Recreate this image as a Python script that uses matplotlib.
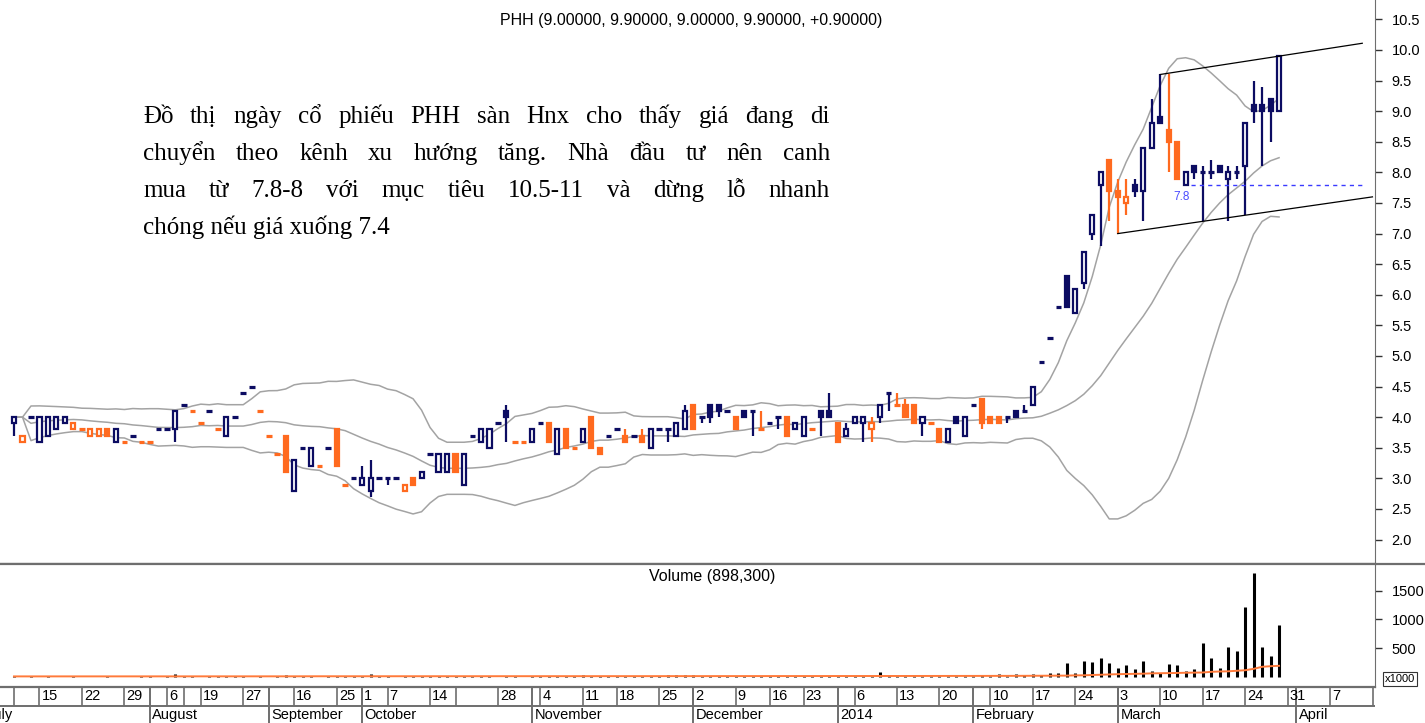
import numpy as np
import pandas as pd
import matplotlib
matplotlib.use("Agg")
import matplotlib.pyplot as plt
from matplotlib.patches import Rectangle

# ---- daily bars, July 2013 .. 28 March 2014 (first bar sits in slot 1)
opens = [3.9, 3.6, 4.0, 3.6, 3.7, 3.8, 3.9, 3.8, 3.8,
         3.7, 3.7, 3.8, 3.6, 3.6, 3.7, 3.6, 3.6, 3.8, 3.8,
         3.8, 4.2, 4.1, 3.9, 4.1, 3.8, 3.7, 4.0, 4.4, 4.5,
         4.1, 3.7, 3.4, 3.7, 2.8, 3.5, 3.2, 3.2, 3.5, 3.8,
         2.9, 3.0, 2.9, 2.8, 3.0, 3.0, 3.0, 2.8, 3.0, 3.0,
         3.4, 3.1, 3.1, 3.4, 2.9, 3.7, 3.6, 3.5, 3.9, 4.1,
         3.6, 3.6, 3.6, 3.9, 3.9, 3.4, 3.8, 3.5, 3.6, 4.0,
         3.5, 3.7, 3.8, 3.7, 3.7, 3.7, 3.5, 3.8, 3.8, 3.7,
         3.8, 4.2, 4.0, 4.2, 4.2, 4.1, 4.0, 4.1, 4.1, 3.8,
         3.9, 4.0, 4.0, 3.8, 3.7, 3.8, 4.1, 4.1, 3.9, 3.7,
         3.9, 3.9, 3.8, 4.0, 4.4, 4.2, 4.2, 4.2, 3.9, 3.9,
         3.8, 3.6, 4.0, 3.7, 4.2, 4.3, 4.0, 4.0, 4.0, 4.1,
         4.1, 4.2, 4.9, 5.3, 5.8, 6.3, 5.7, 6.2, 7.0, 7.8,
         8.2, 7.7, 7.5, 7.8, 7.7, 8.4, 8.9, 8.7, 8.5, 7.8,
         8.1, 8.0, 8.0, 8.1, 7.9, 8.0, 8.1, 9.1, 9.1, 9.2,
         9.0]
highs = [4.0, 3.7, 4.0, 4.0, 4.0, 4.0, 4.0, 3.9, 3.8,
         3.8, 3.8, 3.8, 3.8, 3.6, 3.7, 3.6, 3.6, 3.8, 3.8,
         4.1, 4.2, 4.1, 3.9, 4.1, 3.8, 4.0, 4.0, 4.4, 4.5,
         4.1, 3.7, 3.4, 3.7, 3.3, 3.5, 3.5, 3.2, 3.5, 3.8,
         2.9, 3.0, 3.2, 3.3, 3.0, 3.0, 3.0, 2.9, 3.0, 3.1,
         3.4, 3.4, 3.4, 3.4, 3.4, 3.7, 3.8, 3.8, 3.9, 4.2,
         3.6, 3.6, 3.8, 3.9, 3.9, 3.8, 3.8, 3.5, 3.8, 4.0,
         3.5, 3.7, 3.8, 3.8, 3.7, 3.8, 3.8, 3.8, 3.8, 3.9,
         4.2, 4.2, 4.0, 4.2, 4.2, 4.1, 4.0, 4.1, 4.1, 4.1,
         3.9, 4.0, 4.0, 3.9, 4.0, 3.8, 4.1, 4.4, 3.9, 3.9,
         4.0, 4.0, 4.0, 4.2, 4.4, 4.4, 4.3, 4.2, 4.0, 3.9,
         3.8, 3.8, 4.0, 4.0, 4.2, 4.3, 4.0, 4.0, 4.0, 4.1,
         4.2, 4.5, 4.9, 5.3, 5.8, 6.3, 6.1, 6.7, 7.3, 8.0,
         8.2, 7.9, 7.9, 7.9, 8.4, 9.2, 9.6, 9.6, 8.5, 8.0,
         8.1, 8.1, 8.2, 8.1, 8.1, 8.1, 8.8, 9.5, 9.4, 9.2,
         9.9]
lows = [3.7, 3.6, 4.0, 3.6, 3.7, 3.8, 3.9, 3.8, 3.8,
        3.7, 3.7, 3.7, 3.6, 3.6, 3.7, 3.6, 3.6, 3.8, 3.8,
        3.6, 4.2, 4.1, 3.9, 4.1, 3.8, 3.7, 4.0, 4.4, 4.5,
        4.1, 3.7, 3.4, 3.1, 2.8, 3.5, 3.2, 3.2, 3.5, 3.2,
        2.9, 3.0, 2.9, 2.7, 3.0, 2.9, 3.0, 2.8, 2.9, 3.0,
        3.4, 3.1, 3.1, 3.1, 2.9, 3.7, 3.6, 3.5, 3.9, 3.6,
        3.6, 3.6, 3.6, 3.9, 3.6, 3.4, 3.5, 3.5, 3.6, 3.5,
        3.4, 3.7, 3.8, 3.6, 3.7, 3.6, 3.5, 3.8, 3.6, 3.7,
        3.8, 3.8, 3.9, 3.9, 4.0, 4.1, 3.8, 4.0, 3.7, 3.8,
        3.9, 3.8, 3.7, 3.8, 3.7, 3.8, 3.7, 4.0, 3.6, 3.7,
        3.9, 3.6, 3.6, 3.9, 4.1, 4.2, 4.0, 3.9, 3.7, 3.9,
        3.6, 3.6, 3.9, 3.7, 4.2, 3.8, 3.9, 3.9, 3.9, 4.0,
        4.1, 4.2, 4.9, 5.3, 5.8, 5.8, 5.7, 6.1, 6.9, 6.8,
        7.2, 7.0, 7.3, 7.6, 7.2, 8.4, 8.8, 8.0, 7.9, 7.8,
        7.9, 7.2, 7.9, 8.0, 7.2, 7.9, 7.3, 8.8, 8.1, 8.5,
        9.0]
closes = [4.0, 3.7, 4.0, 4.0, 4.0, 4.0, 4.0, 3.9, 3.8,
          3.8, 3.8, 3.7, 3.8, 3.6, 3.7, 3.6, 3.6, 3.8, 3.8,
          4.1, 4.2, 4.1, 3.9, 4.1, 3.8, 4.0, 4.0, 4.4, 4.5,
          4.1, 3.7, 3.4, 3.1, 3.3, 3.5, 3.5, 3.2, 3.5, 3.2,
          2.9, 3.0, 3.0, 3.0, 3.0, 3.0, 3.0, 2.9, 2.9, 3.1,
          3.4, 3.4, 3.4, 3.1, 3.4, 3.7, 3.8, 3.8, 3.9, 4.0,
          3.6, 3.6, 3.8, 3.9, 3.6, 3.8, 3.5, 3.5, 3.8, 3.5,
          3.4, 3.7, 3.8, 3.6, 3.7, 3.6, 3.8, 3.8, 3.8, 3.9,
          4.1, 3.8, 4.0, 4.0, 4.1, 4.1, 3.8, 4.0, 4.1, 3.8,
          3.9, 4.0, 3.7, 3.9, 4.0, 3.8, 4.0, 4.0, 3.6, 3.8,
          4.0, 4.0, 3.9, 4.2, 4.4, 4.2, 4.0, 3.9, 4.0, 3.9,
          3.6, 3.8, 3.9, 4.0, 4.2, 3.9, 3.9, 3.9, 4.0, 4.0,
          4.1, 4.5, 4.9, 5.3, 5.8, 5.8, 6.1, 6.7, 7.3, 8.0,
          7.7, 7.6, 7.6, 7.7, 8.4, 8.8, 8.8, 8.5, 7.9, 8.0,
          8.0, 8.0, 8.0, 8.0, 8.0, 8.0, 8.8, 9.0, 9.0, 9.0,
          9.9]
# volume in thousands of shares
volumes = [12, 8, 15, 10, 12, 8, 10, 12, 10,
           8, 10, 12, 10, 8, 10, 12, 15, 10, 12,
           60, 15, 12, 10, 15, 12, 20, 15, 12, 10,
           12, 10, 15, 40, 20, 12, 15, 10, 12, 20,
           15, 12, 18, 45, 12, 15, 10, 12, 20, 15,
           12, 15, 20, 18, 15, 12, 15, 12, 10, 20,
           12, 10, 15, 12, 18, 15, 20, 12, 30, 20,
           15, 12, 15, 18, 12, 15, 20, 12, 35, 30,
           35, 30, 25, 20, 15, 12, 20, 15, 18, 20,
           12, 15, 20, 15, 18, 12, 20, 25, 20, 15,
           15, 20, 25, 80, 30, 20, 25, 20, 15, 12,
           20, 15, 15, 25, 15, 35, 20, 55, 25, 45,
           30, 50, 40, 66, 66, 240, 66, 275, 260, 326,
           240, 158, 210, 135, 285, 105, 66, 222, 205, 100,
           143, 587, 326, 160, 528, 453, 1222, 1802, 528, 372,
           898.3]
FIRST_SLOT = 1

# date axis: weekly ticks and month starts (slot index)
week_ticks = [1, 4, 9, 14, 19, 21, 23, 28, 34, 39, 42, 45, 50, 53, 58, 63, 68, 72, 77,
              81, 86, 90, 94, 100, 105, 110, 116, 121, 126, 131, 136, 141, 146, 151, 156]
week_labels = ['', '15', '22', '29', '6', '', '19', '27', '16', '25', '1', '7', '14', '', '28',
               '4', '11', '18', '25', '2', '9', '16', '23', '6', '13', '20', '10', '17', '24',
               '3', '10', '17', '24', '31', '7']
month_starts = [-2.5, 17, 31, 42, 62, 81, 98, 114, 131, 152]
month_labels = ['July', 'August', 'September', 'October', 'November', 'December',
                '2014', 'February', 'March', 'April']

# trend channel: the two highs and two lows (bar numbers) it runs through
upper_touch = [135, 149]
lower_touch = [130, 145]
channel_end = [159.8, 161.0]
support_level = 7.8
support_span = [139.6, 159.8]

NAVY = '#0c0c62'
ORANGE = '#ff6a1f'
BAND = '#a3a3a3'
FRAME = '#6e6e6e'
plt.rcParams['font.family'] = ['Liberation Sans', 'DejaVu Sans']

W, H = 1425, 723
fig = plt.figure(figsize=(W / 100, H / 100), dpi=100)
fx = lambda px: px / W
fy = lambda py: 1 - py / H
XL = (-0.65, 161.3)

ax = fig.add_axes([0, fy(564), fx(1375), fy(0) - fy(564)])
axv = fig.add_axes([0, fy(687), fx(1375), fy(564) - fy(687)])
axd = fig.add_axes([0, 0, fx(1375), fy(687)])

n = len(closes)
x = np.arange(n) + FIRST_SLOT

# colour: navy when close rises, orange when it falls, unchanged keeps colour
colors = []
cur = NAVY
for i in range(n):
    if i > 0:
        if closes[i] > closes[i - 1]:
            cur = NAVY
        elif closes[i] < closes[i - 1]:
            cur = ORANGE
    colors.append(cur)

# bollinger bands 20 / 2 (from the bars before each day)
cs = pd.Series(closes).shift(1).bfill()
mid = cs.rolling(20, min_periods=1).mean()
sd = cs.rolling(20, min_periods=1).std(ddof=0).fillna(0)
for band in (mid + 2 * sd, mid, mid - 2 * sd):
    ax.plot(x, band, color=BAND, lw=1.1, zorder=1)

for i in range(n):
    o, h, l, c = opens[i], highs[i], lows[i], closes[i]
    col = colors[i]
    xi = x[i]
    if h > l:
        ax.vlines(xi, l, h, color=col, lw=1.6, zorder=2)
    if o == c:
        ax.hlines(c, xi - 0.33, xi + 0.33, color=col, lw=2.3, zorder=3)
    else:
        lo, hi = min(o, c), max(o, c)
        face = 'white' if c > o else col
        ax.add_patch(Rectangle((xi - 0.24, lo), 0.48, hi - lo, facecolor=face,
                               edgecolor=col, lw=1.6, zorder=3))

# channel lines
for touch, src, xe in ((upper_touch, highs, channel_end[0]), (lower_touch, lows, channel_end[1])):
    a, b = touch
    slope = (src[b] - src[a]) / (x[b] - x[a])
    ax.plot([x[a], xe], [src[a], src[a] + slope * (xe - x[a])], color='black', lw=0.9, zorder=4)

ax.hlines(support_level, support_span[0], support_span[1], colors='#3a3aff',
          linestyles=(0, (3, 3)), lw=1.0, zorder=4)
ax.text(support_span[0] - 0.1, support_level - 0.1, '7.8', color='#4a4aff', fontsize=8.5,
        ha='right', va='top')

ax.set_xlim(*XL)
ax.set_ylim(1.601, 10.817)
ax.yaxis.tick_right()
ax.set_yticks(np.arange(2.0, 10.51, 0.5))
ax.set_yticklabels([f'{v:.1f}' for v in np.arange(2.0, 10.51, 0.5)], fontsize=10.5)
ax.tick_params(axis='y', direction='out', length=5, width=1, pad=7, color='#333333')
ax.set_xticks([])
for s in ('top', 'left'):
    ax.spines[s].set_visible(False)
ax.spines['right'].set_color(FRAME)
ax.spines['bottom'].set_color(FRAME)
ax.spines['bottom'].set_linewidth(1.6)
ax.text(0.503, 0.963, 'PHH (9.00000, 9.90000, 9.00000, 9.90000, +0.90000)',
        transform=ax.transAxes, ha='center', va='center', fontsize=11.5)

# volume
vs = pd.Series(volumes).shift(1).bfill()
axv.vlines(x, 0, volumes, color='black', lw=2.2, zorder=2)
axv.plot(x, vs.rolling(50, min_periods=1).mean(), color='#ff7a3a', lw=1.4, zorder=3)
axv.set_xlim(*XL)
axv.set_ylim(-172, 1963)
axv.yaxis.tick_right()
axv.set_yticks([500, 1000, 1500])
axv.set_yticklabels(['500', '1000', '1500'], fontsize=10.5)
axv.tick_params(axis='y', direction='out', length=5, width=1, pad=7, color='#333333')
axv.set_xticks([])
for s in ('top', 'left'):
    axv.spines[s].set_visible(False)
for s in ('right', 'bottom'):
    axv.spines[s].set_color(FRAME)
axv.spines['bottom'].set_linewidth(1.6)
axv.text(0.518, 0.9, f'Volume ({volumes[-1] * 1000:,.0f})', transform=axv.transAxes,
         ha='center', va='center', fontsize=11.5)
fig.text(fx(1400), fy(679), 'x1000', fontsize=8, ha='center', va='center',
         bbox=dict(boxstyle='square,pad=0.15', fc='white', ec='#333333', lw=0.8))

# separator line across the full width
fig.add_artist(plt.Line2D([0, 1], [fy(564), fy(564)], color=FRAME, lw=1.6))

# date axis
axd.set_xlim(*XL)
axd.set_ylim(0, 36)
axd.axis('off')
axd.axhline(17, color=FRAME, lw=1.4)
for t, lab in zip(week_ticks, week_labels):
    axd.vlines(t, 17, 36, color=FRAME, lw=1.2)
    if lab:
        axd.text(t + 0.25, 26.5, lab, fontsize=10.5, ha='left', va='center')
for t, lab in zip(month_starts, month_labels):
    axd.vlines(t, 0, 36, color=FRAME, lw=1.4)
    axd.text(t + 0.3, 8, lab, fontsize=10.5, ha='left', va='center', clip_on=True)
axd.vlines(XL[1] - 0.2, 17, 36, color=FRAME, lw=1.2)

# commentary, justified
note = ['Đồ thị ngày cổ phiếu PHH sàn Hnx cho thấy giá đang di',
        'chuyển theo kênh xu hướng tăng. Nhà đầu tư nên canh',
        'mua từ 7.8-8 với mục tiêu 10.5-11 và dừng lỗ nhanh',
        'chóng nếu giá xuống 7.4']
tkw = dict(fontsize=18, family='Liberation Serif', va='baseline', ha='left')
renderer = fig.canvas.get_renderer()
x0, x1 = 143, 830
for k, line in enumerate(note):
    yb = fy(123 + 37 * k)
    if k == len(note) - 1:
        fig.text(fx(x0), yb, line, **tkw)
        continue
    words = line.split()
    texts = [fig.text(0, yb, w, **tkw) for w in words]
    widths = [t.get_window_extent(renderer).width for t in texts]
    gap = (x1 - x0 - sum(widths)) / (len(words) - 1)
    xp = x0
    for t, w in zip(texts, widths):
        t.set_x(fx(xp))
        xp += w + gap

fig.savefig('out.png', dpi=100)
